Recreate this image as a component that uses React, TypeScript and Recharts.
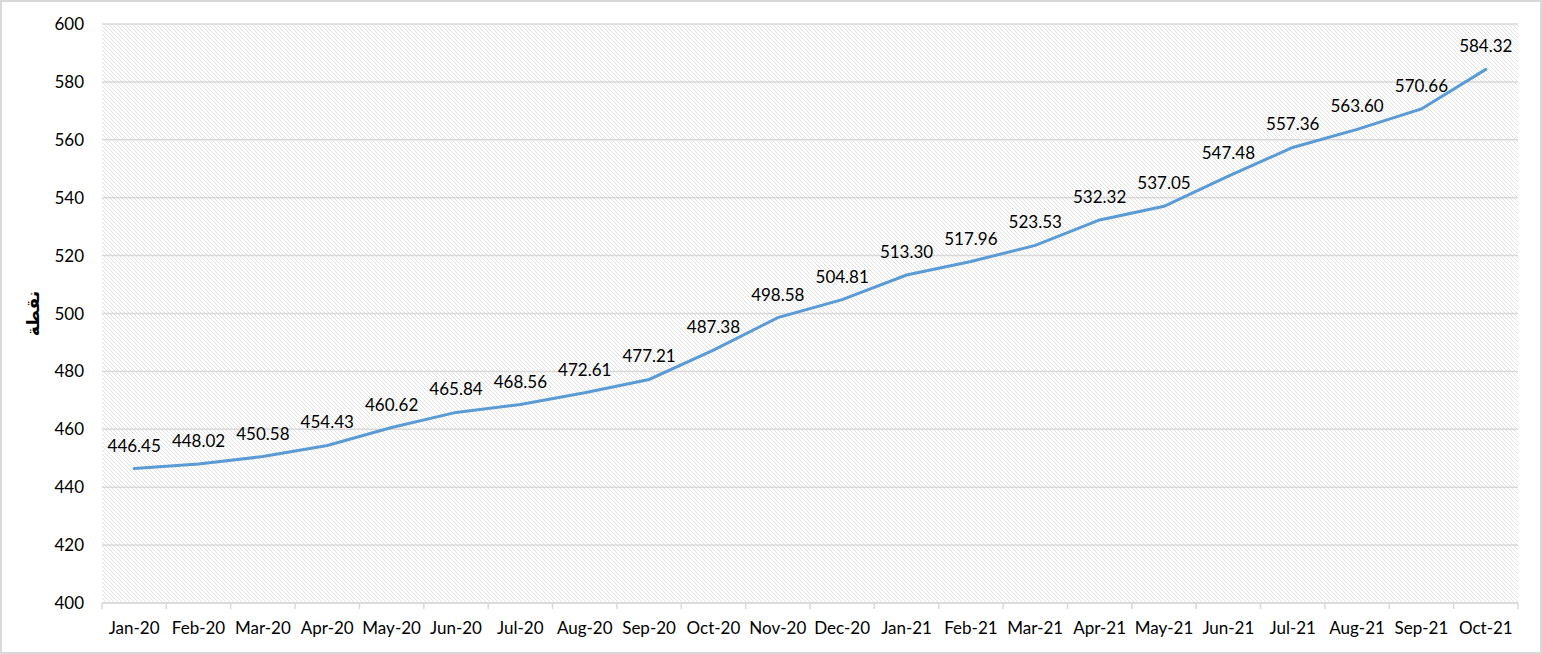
import React from "react";
import {
  LineChart,
  Line,
  XAxis,
  YAxis,
  CartesianGrid,
  LabelList,
  Label,
} from "recharts";

const months = [
  "Jan-20", "Feb-20", "Mar-20", "Apr-20", "May-20", "Jun-20", "Jul-20", "Aug-20",
  "Sep-20", "Oct-20", "Nov-20", "Dec-20", "Jan-21", "Feb-21", "Mar-21", "Apr-21",
  "May-21", "Jun-21", "Jul-21", "Aug-21", "Sep-21", "Oct-21",
];

const points = [
  446.45, 448.02, 450.58, 454.43, 460.62, 465.84, 468.56, 472.61, 477.21, 487.38,
  498.58, 504.81, 513.3, 517.96, 523.53, 532.32, 537.05, 547.48, 557.36, 563.6,
  570.66, 584.32,
];

const yTicks = [400, 420, 440, 460, 480, 500, 520, 540, 560, 580, 600];

const data = months.map((m, i) => ({ month: m, value: points[i] }));

const FONT = "Lato, 'Open Sans', sans-serif";
const GRID = "#d9d9d9";

// x tick: label at category centre, tick marks on the category boundaries
function MonthTick(props: any) {
  const { x, y, payload, index, visibleTicksCount } = props;
  const half = payload?.offset || 32;
  const axisY = y - 19;
  return (
    <g>
      <line x1={x - half} y1={axisY} x2={x - half} y2={axisY + 6} stroke={GRID} strokeWidth={1.5} />
      {index === visibleTicksCount - 1 && (
        <line x1={x + half} y1={axisY} x2={x + half} y2={axisY + 6} stroke={GRID} strokeWidth={1.5} />
      )}
      <text x={x} y={y} dy="0.71em" textAnchor="middle" fill="#000" fontSize={17} fontFamily={FONT}>
        {payload.value}
      </text>
    </g>
  );
}

export default function App() {
  return (
    <div style={{ position: "absolute", left: 0, top: 0, width: 1542, height: 654, background: "#fff" }}>
      <LineChart
        width={1542}
        height={654}
        data={data}
        margin={{ top: 24, right: 24, bottom: 0, left: 0 }}
      >
        <defs>
          <pattern id="hatch" patternUnits="userSpaceOnUse" width={4} height={4}>
            <path d="M0,0 L4,4 M-1,3 L1,5 M3,-1 L5,1" stroke="#e2e2e2" strokeWidth={1} />
          </pattern>
        </defs>
        <CartesianGrid vertical={false} stroke={GRID} strokeWidth={1.5} fill="url(#hatch)" />
        <XAxis
          dataKey="month"
          scale="band"
          height={51}
          interval={0}
          axisLine={{ stroke: GRID, strokeWidth: 1.5 }}
          tickLine={false}
          tickSize={6}
          tickMargin={13}
          tick={<MonthTick />}
        />
        <YAxis
          width={102}
          domain={[400, 600]}
          ticks={yTicks}
          interval={0}
          axisLine={false}
          tickLine={false}
          tickMargin={12}
          tick={{ fill: "#000", fontSize: 17, fontFamily: FONT }}
        >
          <Label
            value="نقطة"
            angle={-90}
            position="center"
            dx={-18}
            style={{ fontWeight: "bold", fontSize: 17, fill: "#000", fontFamily: "'DejaVu Sans', sans-serif" }}
          />
        </YAxis>
        <Line
          type="linear"
          dataKey="value"
          stroke="#5b9bd5"
          strokeWidth={3}
          strokeLinecap="round"
          dot={false}
          isAnimationActive={false}
        >
          <LabelList
            dataKey="value"
            position="top"
            offset={17}
            formatter={(v: any) => Number(v).toFixed(2)}
            style={{ fill: "#000", fontSize: 17, fontFamily: FONT }}
          />
        </Line>
      </LineChart>
      <div
        style={{
          position: "absolute",
          left: 0,
          top: 0,
          width: 1542,
          height: 654,
          boxSizing: "border-box",
          border: "2px solid #d9d9d9",
          pointerEvents: "none",
        }}
      />
    </div>
  );
}
